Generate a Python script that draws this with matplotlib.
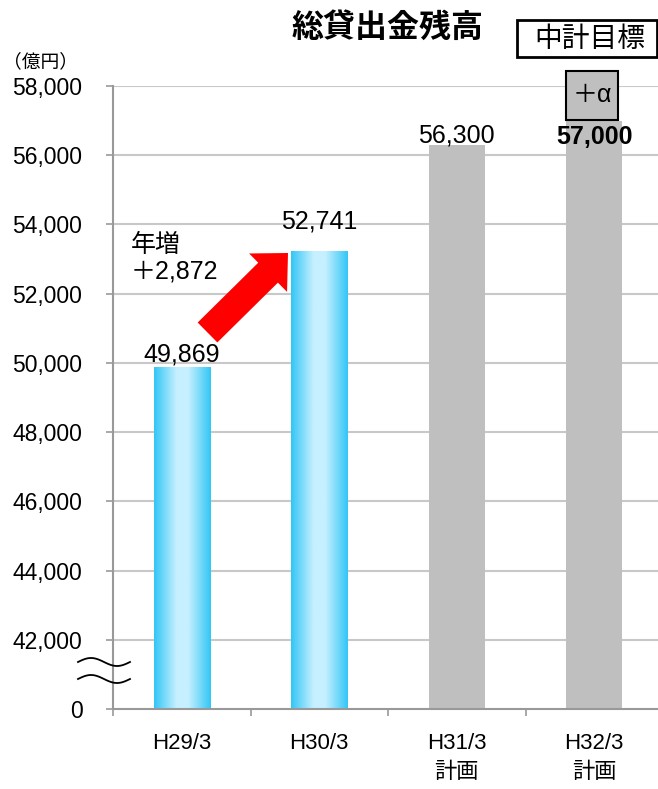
import numpy as np
import matplotlib
matplotlib.use("Agg")
import matplotlib.pyplot as plt
from matplotlib.patches import Rectangle, Polygon
from matplotlib.colors import LinearSegmentedColormap

plt.rcParams['font.family'] = ['Liberation Sans', 'Noto Sans CJK JP']

# data
categories = ["H29/3", "H30/3", "H31/3\n計画", "H32/3\n計画"]
bar_heights = [49869, 53220, 56300, 57000]   # as drawn in the picture
value_labels = ["49,869", "52,741", "56,300", "57,000"]
label_offsets_px = [13, 30, 9, -16]          # label centre above bar top
label_bold = [False, False, False, True]
bar_kind = ["blue", "blue", "gray", "gray"]
yticks = list(range(40000, 58001, 2000))
ytick_labels = ["0"] + [f"{v:,}" for v in yticks[1:]]

W, H, DPI = 658, 789, 100
fig = plt.figure(figsize=(W / DPI, H / DPI), dpi=DPI)


def px(x, y):
    """pixel (top-left origin) -> figure fraction"""
    return x / W, 1 - y / H


ax = fig.add_axes([113 / W, 80 / H, 550 / W, 623 / H])
ax.set_xlim(-0.5, 3.5)
ax.set_ylim(40000, 58000)
ax.set_axisbelow(True)

x = np.arange(len(categories))
bw = 0.41
bars = ax.bar(x, [h - 40000 for h in bar_heights], bottom=40000, width=bw,
              color=["none" if k == "blue" else "#bfbfbf" for k in bar_kind],
              edgecolor="none", zorder=2)

# gradient fill for blue bars
cmap = LinearSegmentedColormap.from_list(
    "cy", [(0, "#33c6f6"), (0.4, "#c6f0ff"), (0.6, "#c6f0ff"), (1, "#33c6f6")])
grad = np.linspace(0, 1, 256).reshape(1, -1)
for b, k in zip(bars, bar_kind):
    if k != "blue":
        continue
    x0, y0 = b.get_x(), b.get_y()
    im = ax.imshow(grad, cmap=cmap, aspect="auto", zorder=2,
                   extent=[x0, x0 + b.get_width(), y0, y0 + b.get_height()])
    im.set_clip_path(b)
ax.set_xlim(-0.5, 3.5)
ax.set_ylim(40000, 58000)

# value labels
for i, (b, lab) in enumerate(zip(bars, value_labels)):
    ax.annotate(lab, (b.get_x() + b.get_width() / 2, bar_heights[i]),
                xytext=(0, label_offsets_px[i] * 72 / DPI), textcoords="offset points",
                ha="center", va="center", fontsize=18,
                fontweight="bold" if label_bold[i] else "normal", zorder=5)

# axes styling
for s in ["top", "right"]:
    ax.spines[s].set_visible(False)
for s in ["left", "bottom"]:
    ax.spines[s].set_color("#999999")
    ax.spines[s].set_linewidth(1.5)
ax.set_yticks(yticks)
ax.set_yticklabels(ytick_labels, fontsize=16.5)
ax.tick_params(axis="y", length=5, width=1.2, color="#999999", pad=17)
ax.grid(axis="y", color="#c8c8c8", linewidth=1.5)
ax.get_ygridlines()[0].set_visible(False)

ax.set_xticks(np.arange(-0.5, 3.6, 1))
ax.set_xticklabels([])
ax.tick_params(axis="x", which="major", length=5, width=1.2, color="#999999")
ax.set_xticks(x, minor=True)
ax.set_xticklabels(categories, minor=True,
                   fontsize=16, linespacing=1.5, va="top")
ax.tick_params(axis="x", which="minor", length=0, pad=17)

# unit label
fig.text(*px(40, 62), "（億円）", ha="center", va="center", fontsize=13.5)

# title
fig.text(*px(388, 28), "総貸出金残高", ha="center", va="center",
         fontsize=23, fontweight="bold", family="Noto Sans CJK JP")

# 中計目標 box
fig.patches.append(Rectangle(px(517, 57), (657 - 517) / W, 37 / H,
                             transform=fig.transFigure, facecolor="white",
                             edgecolor="black", linewidth=2))
fig.text(*px(590, 39), "中計目標", ha="center", va="center", fontsize=20,
         family="Noto Sans CJK JP")

# +α box
fig.patches.append(Rectangle(px(566, 120), 52 / W, 49 / H,
                             transform=fig.transFigure, facecolor="#bfbfbf",
                             edgecolor="black", linewidth=1.5, zorder=3))
fig.text(*px(592, 95), "＋α", ha="center", va="center", fontsize=18, zorder=4)

# annotation 年増
fig.text(*px(131, 258), "年増\n＋2,872", ha="left", va="center", fontsize=18,
         linespacing=1.15)

# red arrow (pixel coordinates)
tail = np.array([207.5, 332.5])
tip = np.array([288.0, 253.0])
d = (tip - tail) / np.linalg.norm(tip - tail)
n = np.array([-d[1], d[0]])
hl, hw, sw = 28, 27, 14
base = tip - d * hl
pts = [tail + n * sw, base + n * sw, base + n * hw, tip,
       base - n * hw, base - n * sw, tail - n * sw]
fig.patches.append(Polygon([px(*p) for p in pts], closed=True,
                           transform=fig.transFigure, facecolor="#ff0000",
                           edgecolor="none", zorder=4))

# axis break waves
t = np.linspace(0, 1, 100)
for yc in (662, 679):
    xs = 78 + 52 * t
    ys = yc - 4 * np.sin(2 * np.pi * t)
    fig.lines.append(plt.Line2D(xs / W, 1 - ys / H, transform=fig.transFigure,
                                color="black", linewidth=1.3))

fig.savefig("out.png", dpi=DPI)
